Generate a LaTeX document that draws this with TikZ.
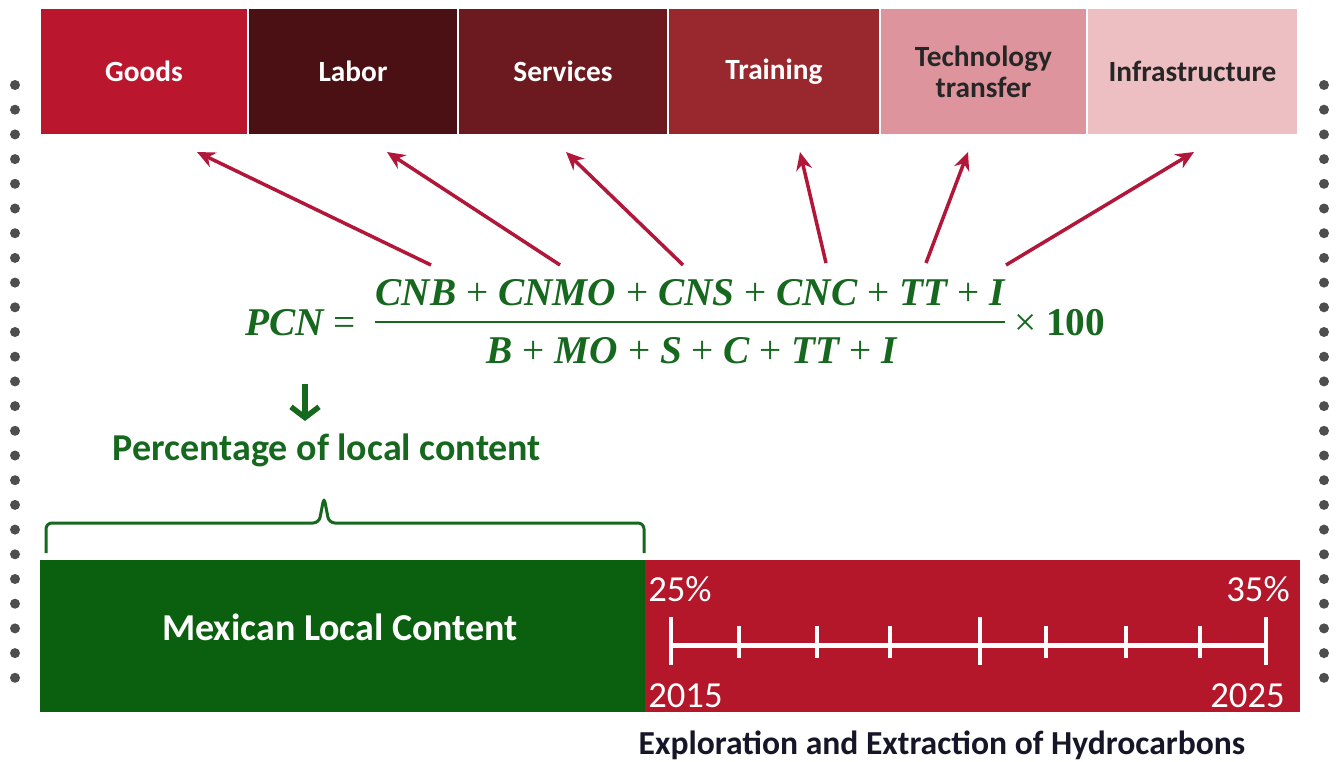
\documentclass[tikz,border=0pt]{standalone}
\usepackage{fontspec}
\setmainfont{Carlito}
\newfontfamily\formfont{Liberation Serif}
\usetikzlibrary{arrows.meta}

\newlength{\du}
\setlength{\du}{0.75pt}

\definecolor{goodscolor}{RGB}{186,22,46}
\definecolor{laborcolor}{RGB}{74,16,20}
\definecolor{servicescolor}{RGB}{108,26,32}
\definecolor{trainingcolor}{RGB}{152,40,46}
\definecolor{techcolor}{RGB}{222,148,156}
\definecolor{infracolor}{RGB}{237,190,194}
\definecolor{arrowred}{RGB}{178,22,56}
\definecolor{formgreen}{RGB}{22,104,30}
\definecolor{boxgreen}{RGB}{10,96,14}
\definecolor{boxred}{RGB}{180,22,42}
\definecolor{dotgray}{RGB}{78,78,78}
\definecolor{captioncolor}{RGB}{22,22,40}

\newcommand{\pv}[1]{{\bfseries\itshape #1}}

\tikzset{
  topbox/.style={draw=white, line width=1.5\du, minimum height=127\du,
    inner sep=0pt, align=center, font=\bfseries\fontsize{22}{23}\selectfont},
  uparrow/.style={draw=arrowred, line width=3.5\du,
    -{Stealth[length=13.5pt,width=12pt]}},
  formtext/.style={text=formgreen, inner sep=0pt,
    font=\formfont\fontsize{29.5}{34}\selectfont},
  whitetext/.style={text=white, inner sep=0pt, font=\fontsize{27.5}{30}\selectfont},
}

\begin{document}
\begin{tikzpicture}
\pgftransformyscale{-1.000000}
\useasboundingbox (0\du,0\du) rectangle (1336\du,761\du);

% dotted margins
\foreach \k in {0,...,24}{
  \fill[dotgray] (15\du,{(85+24.7*\k)*\du}) circle (5\du);
  \fill[dotgray] (1324\du,{(85+24.7*\k)*\du}) circle (5\du);
}

% top row
\node[topbox, fill=goodscolor, text=white, minimum width=208\du] (goods) at (144\du,71.5\du) {Goods};
\node[topbox, fill=laborcolor, text=white, minimum width=210\du] (labor) at (353\du,71.5\du) {Labor};
\node[topbox, fill=servicescolor, text=white, minimum width=210\du] (services) at (563\du,71.5\du) {Services};
\node[topbox, fill=trainingcolor, text=white, minimum width=212\du] (training) at (774\du,71.5\du) {Training};
\node[topbox, fill=techcolor, text=black!85, minimum width=207\du] (tech) at (983.5\du,71.5\du) {Technology\\transfer};
\node[topbox, fill=infracolor, text=black!85, minimum width=211\du] (infra) at (1192.5\du,71.5\du) {Infrastructure};

% setfont left to latex
\node[formtext, anchor=east] (pcn) at (356\du,323\du) {\pv{PCN} =};
\node[formtext] (num) at (690\du,293\du) {\pv{CNB} + \pv{CNMO} + \pv{CNS} + \pv{CNC} + \pv{TT} + \pv{I}};
\node[formtext] (den) at (692\du,351\du) {\pv{B} + \pv{MO} + \pv{S} + \pv{C} + \pv{TT} + \pv{I}};
\node[formtext, anchor=west] (times) at (1014\du,323\du) {× \textbf{100}};
\coordinate (barl) at (375\du,322\du);
\coordinate (barr) at (1005\du,322\du);
\draw[formgreen, line width=2.5\du] (barl) -- (barr);

% arrows to the categories
\coordinate (t1) at (431\du,265\du);  \coordinate (h1) at (197\du,152\du);
\coordinate (t2) at (560\du,265\du);  \coordinate (h2) at (387\du,152\du);
\coordinate (t3) at (683\du,265\du);  \coordinate (h3) at (566\du,152\du);
\coordinate (t4) at (826\du,263\du);  \coordinate (h4) at (800\du,152\du);
\coordinate (t5) at (926\du,263\du);  \coordinate (h5) at (968\du,152\du);
\coordinate (t6) at (1006\du,265\du); \coordinate (h6) at (1194\du,152\du);
\foreach \n in {1,...,6}
  \draw[uparrow] (t\n) -- (h\n);

% percentage
\coordinate (downtop) at (305\du,384\du);
\coordinate (downtip) at (305\du,421\du);
\node[text=formgreen, inner sep=0pt, font=\bfseries\fontsize{28.5}{30}\selectfont] (perc) at (327\du,450\du) {Percentage of local content};
\draw[formgreen, line width=5.5\du, -{Straight Barb[length=8pt,width=21pt]}] (downtop) -- (downtip);

% brace
\draw[formgreen, line width=3\du, rounded corners=6\du]
  (46\du,553\du) -- (46\du,523\du) -- (319\du,523\du) -- (324\du,497\du)
  -- (329\du,523\du) -- (644\du,523\du) -- (644\du,553\du);

% bottom boxes
\node[fill=boxgreen, minimum width=605\du, minimum height=152\du, inner sep=0pt] (mlc) at (342.5\du,636\du) {};
\node[whitetext, font=\bfseries\fontsize{28.5}{30}\selectfont] (mlctext) at (340\du,627\du) {Mexican Local Content};
\node[fill=boxred, minimum width=655\du, minimum height=152\du, inner sep=0pt] (eeh) at (972.5\du,636\du) {};

% time line
\draw[white, line width=5\du] (672\du,645\du) -- (1266\du,645\du);
\foreach \x in {671,980,1266}
  \draw[white, line width=4\du] (\x\du,617\du) -- (\x\du,665\du);
\foreach \x in {739,817,890,1046,1126,1200}
  \draw[white, line width=4\du] (\x\du,626\du) -- (\x\du,658\du);
\node[whitetext, anchor=west] (p25) at (648\du,589\du) {25\%};
\node[whitetext, anchor=east] (p35) at (1290\du,589\du) {35\%};
\node[whitetext, anchor=west] (y15) at (648\du,696\du) {2015};
\node[whitetext, anchor=east] (y25) at (1285\du,696\du) {2025};

\node[text=captioncolor, inner sep=0pt, font=\bfseries\fontsize{25.2}{28}\selectfont] (caption) at (942\du,745\du) {Exploration and Extraction of Hydrocarbons};
\end{tikzpicture}
\end{document}
